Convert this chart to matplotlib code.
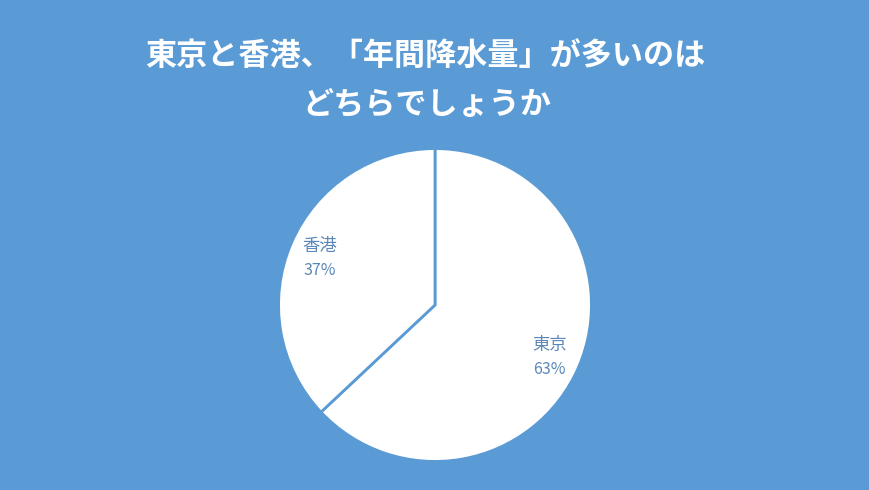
import numpy as np
import matplotlib
matplotlib.use("Agg")
import matplotlib.pyplot as plt

plt.rcParams['font.family'] = ['Noto Sans CJK JP', 'DejaVu Sans']

title_lines = ["東京と香港、「年間降水量」が多いのは", "どちらでしょうか"]
categories = ["東京", "香港"]
values = [63, 37]

BG = "#5B9BD5"
TXT = "#5A88BA"

fig = plt.figure(figsize=(8.7, 4.9), dpi=100, facecolor=BG)
W, H = 870, 490
cx, cy, r = 435, 305, 158
ax = fig.add_axes([(cx - r) / W, (H - cy - r) / H, 2 * r / W, 2 * r / H])
ax.set_facecolor(BG)
wedges, _ = ax.pie(values, startangle=90, counterclock=False, radius=1,
                   colors=["white", "white"],
                   wedgeprops=dict(edgecolor=BG, linewidth=2))
ax.set_xlim(-1.01, 1.01)
ax.set_ylim(-1.01, 1.01)
ax.set_aspect('equal')
ax.axis('off')

for w, name, v in zip(wedges, categories, values):
    mid = np.deg2rad((w.theta1 + w.theta2) / 2)
    x, y = 0.8 * np.cos(mid), 0.8 * np.sin(mid)
    ax.annotate(name, (x, y), xytext=(0, 7), textcoords='offset points',
                ha='center', va='center', fontsize=12.5, color=TXT)
    ax.annotate(f"{v}%", (x, y), xytext=(0, -11), textcoords='offset points',
                ha='center', va='center', fontsize=11.5, color=TXT)

fig.text(425 / W, 1 - 56 / H, title_lines[0], ha='center', va='center',
         fontsize=22.4, fontweight='bold', color='white')
fig.text(427 / W, 1 - 105 / H, title_lines[1], ha='center', va='center',
         fontsize=22.4, fontweight='bold', color='white')

fig.savefig("out.png", dpi=100, facecolor=BG)
